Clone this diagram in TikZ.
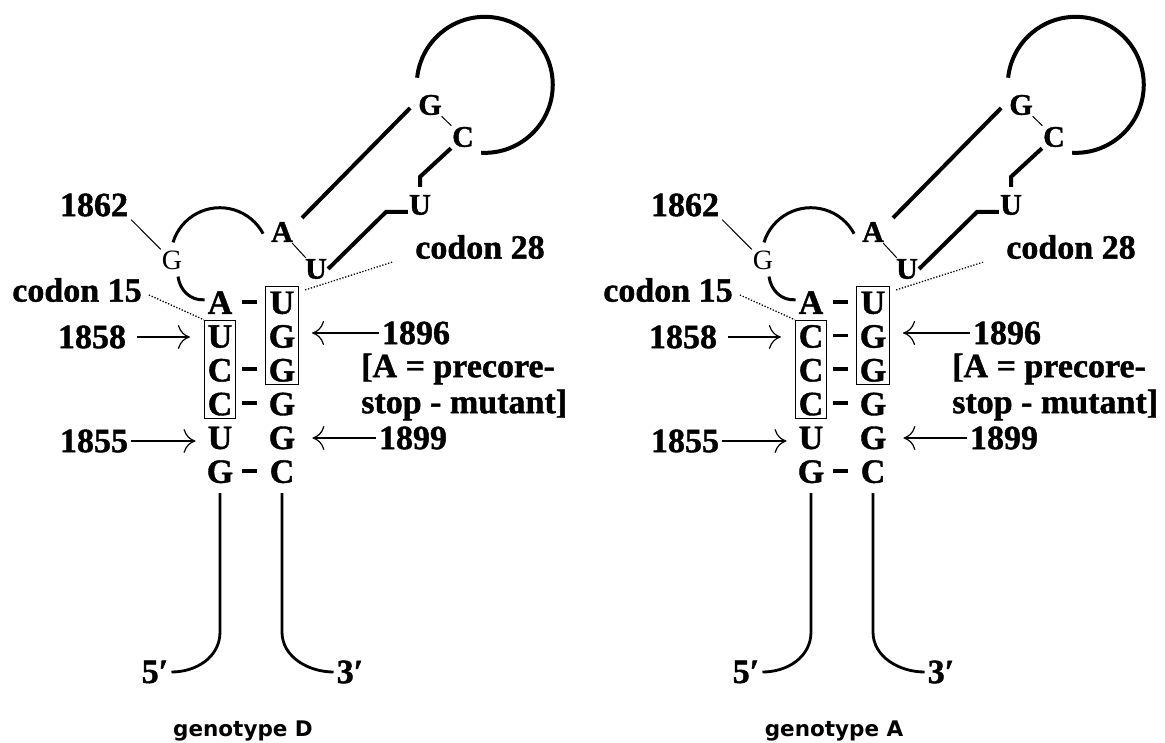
\documentclass[tikz,border=0pt]{standalone}
\usepackage{fontspec}
\setmainfont{Liberation Serif}[BoldFeatures={FakeBold=1.2}]
\newfontfamily\gtfont{DejaVu Sans}
\usetikzlibrary{arrows.meta,calc,fit}

\begin{document}
\begin{tikzpicture}[
  x=1pt, y=-1pt,
  nt/.style={font=\bfseries\fontsize{34}{36}\selectfont, inner sep=0pt, text height=24pt, text depth=0pt},
  lnt/.style={font=\bfseries\fontsize{30}{32}\selectfont, inner sep=1pt},
  lbl/.style={font=\bfseries\fontsize{34}{36}\selectfont, inner sep=3pt},
  gtl/.style={font=\gtfont\bfseries\fontsize{21.5}{23}\selectfont},
  nbox/.style={draw, line width=1.3pt, inner sep=3pt},
  bb/.style={line width=4pt},
  sb/.style={line width=3pt},
  strand/.style={line width=2.8pt},
  tick/.style={line width=1pt},
  dots/.style={line width=1.3pt, dash pattern=on 1.3pt off 1.7pt},
  pair/.style={line width=3.8pt},
  ptr/.style={line width=1.2pt, -{To[length=12pt,width=24pt]}}
]
\useasboundingbox (0,0) rectangle (1165,743);
\foreach \dx/\gty/\fst/\prs in {0/D/U/{1,3,4,6}, 591/A/C/{1,2,3,4,6}} {
\begin{scope}[shift={(\dx,0)}]
% stem
\foreach \lt/\rt [count=\i] in {A/U, \fst/G, C/G, C/G, U/G, G/C} {
  \node[nt] (\gty l\i) at (220,{268+33.8*\i}) {\lt};
  \node[nt] (\gty r\i) at (282,{268+33.8*\i}) {\rt};
}
\foreach \i in \prs {
  \draw[pair] ($(\gty l\i)!.5!(\gty r\i)+(-9,0)$) -- ++(15,0);
}
\node[nbox, fit=(\gty l2)(\gty l4)] (\gty bl) {};
\node[nbox, fit=(\gty r1)(\gty r3)] (\gty br) {};
% loop
\node[lnt] (\gty g1) at (430,105) {G};
\node[lnt] (\gty c1) at (463,137) {C};
\node[lnt] (\gty u1) at (420,205) {U};
\node[lnt] (\gty a1) at (282,232) {A};
\node[lnt] (\gty u2) at (316,269) {U};
\node[lnt, font=\fontsize{28}{30}\selectfont] (\gty g0) at (172,260) {G};
% labels
\node[lbl] (\gty n62) at (94,205) {1862};
\node[lbl] (\gty c28) at (480,247) {codon 28};
\node[lbl] (\gty c15) at (77,290) {codon 15};
\node[lbl] (\gty n58) at (92,337) {1858};
\node[lbl] (\gty n96) at (416,333) {1896};
\node[lbl, align=left, anchor=west] (\gty mut) at (358,387) {[A = precore-\\stop - mutant]};
\node[lbl] (\gty n55) at (94,441) {1855};
\node[lbl] (\gty n99) at (413,438) {1899};
\node[lbl] (\gty p5) at (155,672) {5′};
\node[lbl] (\gty p3) at (350,672) {3′};
\node[gtl] (\gty gt) at (243,731) {genotype \gty};
% backbone
\draw[tick] (\gty g1) -- (\gty c1);
\draw[tick] (\gty a1) -- (\gty u2);
\draw[tick] (\gty n62.south east) -- (\gty g0.north west);
\draw[bb] ($(\gty a1.north east)+(8,-3)$) -- ($(\gty g1.west)+(-7,3)$);
\draw[bb] (\gty u2.east) -- ($(\gty u1.west)+(-22,7)$) -- ($(\gty u1.west)+(0,7)$);
\draw[bb] ($(\gty u1.north)+(0,-7)$) -- ++(0,-10) -- (\gty c1.south west);
\draw[bb] ($(\gty g1.north west)+(0,-16)$) arc[start angle=186, end angle=453, radius=68];
\draw[sb] ($(\gty g0.north)+(1,-7)$) arc[start angle=197, end angle=332, radius=49];
\draw[sb] ($(\gty g0.south)+(6,6)$) .. controls +(2,14) and +(-14,1) .. ($(\gty l1.west)+(-3,-2)$);
\draw[strand] ($(\gty l6.south)+(0,10)$) -- ++(0,139) .. controls +(0,25) and +(25,0) .. (\gty p5.east);
\draw[strand] ($(\gty r6.south)+(0,10)$) -- ++(0,139) .. controls +(0,25) and +(-25,0) .. (\gty p3.west);
% pointers
\draw[ptr, shorten <=8pt, shorten >=14pt] (\gty n58) -- (\gty n58 -| \gty bl.west);
\draw[ptr, shorten >=12pt] (\gty n55) -- (\gty n55 -| \gty l5.west);
\draw[ptr, shorten >=13pt] (\gty n96) -- (\gty n96 -| \gty br.east);
\draw[ptr, shorten >=17pt] (\gty n99) -- (\gty n99 -| \gty r5.east);
\draw[dots] ([xshift=-20pt]\gty c28.south west) -- ($(\gty br.north east)+(6,4)$);
\draw[dots] ($(\gty c15.east)+(4,5)$) -- (\gty bl.north west);
\end{scope}
}
\end{tikzpicture}
\end{document}
